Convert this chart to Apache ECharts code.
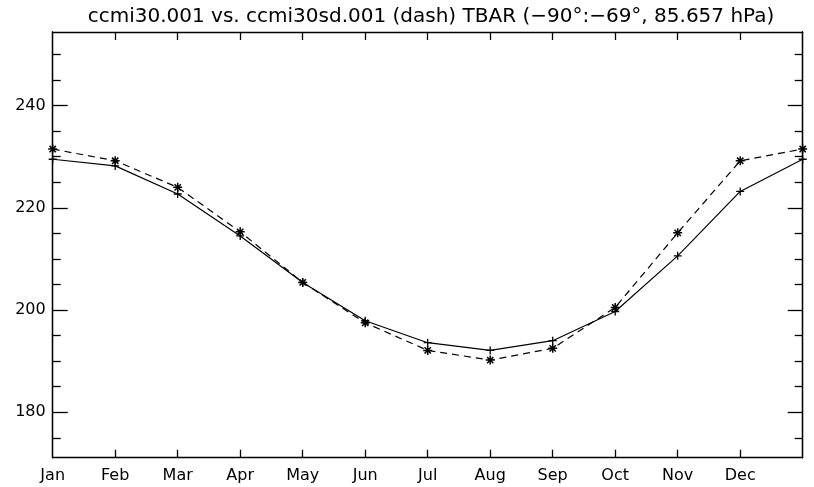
<!DOCTYPE html>
<html>
<head>
<meta charset="utf-8">
<script src="https://cdn.jsdelivr.net/npm/echarts@6/dist/echarts.min.js"></script>
<style>html,body{margin:0;padding:0;background:#fff;}#c{width:814px;height:487px;}</style>
</head>
<body>
<div id="c"></div>
<script>
const months = ['Jan','Feb','Mar','Apr','May','Jun','Jul','Aug','Sep','Oct','Nov','Dec'];
// 13 points: Jan..Dec then Jan repeated
const ccmi30 = [229.5, 228.2, 222.7, 214.5, 205.4, 197.9, 193.6, 192.1, 194.0, 199.7, 210.6, 223.2, 229.5];
const ccmi30sd = [231.5, 229.2, 224.0, 215.3, 205.4, 197.5, 192.1, 190.2, 192.5, 200.5, 215.1, 229.2, 231.5];
const yMajor = [180, 200, 220, 240];
const yMinor = [175, 185, 190, 195, 205, 210, 215, 225, 230, 235, 245, 250];
const yMin = 171.1, yMax = 254.4;
const titleText = 'ccmi30.001 vs. ccmi30sd.001 (dash) TBAR (\u221290\u00b0:\u221269\u00b0, 85.657 hPa)';

const FONT = 'DejaVu Sans';
const plus = 'path://M0,-5L0,5M-5,0L5,0';
const star = 'path://M0,-5L0,5M-5,0L5,0M-3.5,-3.5L3.5,3.5M-3.5,3.5L3.5,-3.5';
const xTicks = months.map((m, i) => i).filter(i => i > 0);
const xLabels = months.map((m, i) => i);

function yAx(pos, ticks, len, labels) {
  return {
    type: 'value', position: pos, min: yMin, max: yMax,
    axisLine: {show: true, onZero: false, lineStyle: {color: '#000', width: 1.3}},
    axisTick: {show: true, inside: true, length: len, customValues: ticks, lineStyle: {color: '#000', width: 1.3}},
    axisLabel: labels ? {show: true, customValues: ticks, color: '#000', fontFamily: FONT, fontSize: 16, margin: 7} : {show: false},
    splitLine: {show: false}
  };
}
function xAx(pos, labels) {
  return {
    type: 'value', position: pos, min: 0, max: 12,
    axisLine: {show: true, onZero: false, lineStyle: {color: '#000', width: 1.3}},
    axisTick: {show: true, inside: true, length: 8, customValues: xTicks, lineStyle: {color: '#000', width: 1.3}},
    axisLabel: labels ? {show: true, customValues: xLabels, formatter: v => months[Math.round(v)] || '', color: '#000', fontFamily: FONT, fontSize: 16, margin: 10} : {show: false},
    splitLine: {show: false}
  };
}

const chart = echarts.init(document.getElementById('c'), null, {renderer: 'canvas'});
chart.setOption({
  backgroundColor: '#fff',
  animation: false,
  title: {text: titleText, left: 426, top: 2, textAlign: 'center',
    textStyle: {color: '#000', fontFamily: FONT, fontSize: 20, fontWeight: 'normal'}},
  grid: {left: 52.7, right: 11.3, top: 32, bottom: 29.3, containLabel: false},
  xAxis: [xAx('bottom', true), xAx('top', false)],
  yAxis: [yAx('left', yMajor, 15, true), yAx('left', yMinor, 8, false), yAx('right', yMajor, 15, false), yAx('right', yMinor, 8, false)],
  series: [
    {type: 'line', xAxisIndex: 0, yAxisIndex: 0, data: ccmi30.map((v, i) => [i, v]),
     symbol: plus, symbolSize: 8, lineStyle: {color: '#000', width: 1.2},
     itemStyle: {color: 'none', borderColor: '#000', borderWidth: 1.3}},
    {type: 'line', xAxisIndex: 0, yAxisIndex: 0, data: ccmi30sd.map((v, i) => [i, v]),
     symbol: star, symbolSize: 9, lineStyle: {color: '#000', width: 1.2, type: [7, 5]},
     itemStyle: {color: 'none', borderColor: '#000', borderWidth: 1.5}}
  ]
});
</script>
</body>
</html>
